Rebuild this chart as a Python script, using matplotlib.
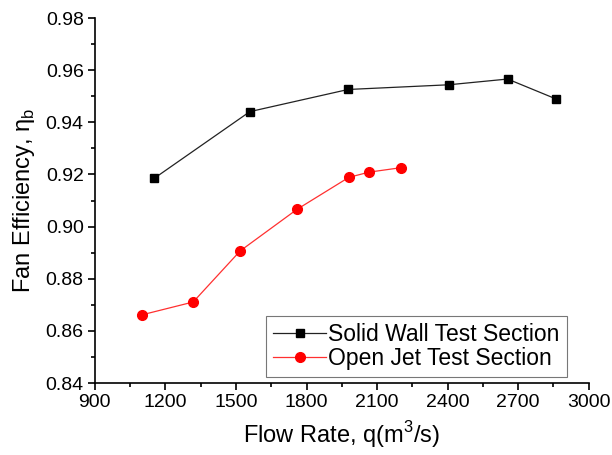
import matplotlib
matplotlib.use("Agg")
import matplotlib.pyplot as plt
from matplotlib.ticker import MultipleLocator

plt.rcParams['font.family'] = ['Liberation Sans', 'DejaVu Sans']

# solid wall test section
solid_q = [1152, 1559, 1977, 2405, 2655, 2860]
solid_eff = [0.9185, 0.9441, 0.9526, 0.9544, 0.9566, 0.9490]

# open jet test section
open_q = [1101, 1318, 1518, 1759, 1980, 2066, 2201]
open_eff = [0.8662, 0.8711, 0.8907, 0.9066, 0.9189, 0.9209, 0.9226]

fig = plt.figure(figsize=(6.12, 4.55), dpi=100)
ax = fig.add_axes([0.155, 0.158, 0.807, 0.8024])

ax.plot(solid_q, solid_eff, color='#222222', lw=0.9, marker='s', ms=6,
        mfc='black', mec='black', label='Solid Wall Test Section')
ax.plot(open_q, open_eff, color='#ff3030', lw=0.9, marker='o', ms=7,
        mfc='red', mec='red', label='Open Jet Test Section')

ax.set_xlim(900, 3000)
ax.set_ylim(0.84, 0.98)
ax.xaxis.set_major_locator(MultipleLocator(300))
ax.xaxis.set_minor_locator(MultipleLocator(150))
ax.yaxis.set_major_locator(MultipleLocator(0.02))
ax.yaxis.set_minor_locator(MultipleLocator(0.01))
ax.yaxis.set_major_formatter(plt.FuncFormatter(lambda v, p: '%.2f' % v))

ax.spines['top'].set_visible(False)
ax.spines['right'].set_visible(False)
ax.spines['left'].set_linewidth(1.2)
ax.spines['bottom'].set_linewidth(1.2)
ax.tick_params(which='major', direction='out', length=5, width=1.2, labelsize=14, pad=3)
ax.tick_params(which='minor', direction='out', length=3, width=1.2)

ax.set_xlabel('Flow Rate, q(m$^\\mathregular{3}$/s)', fontsize=17, labelpad=6)
ax.set_ylabel('Fan Efficiency, η$_\\mathregular{b}$', fontsize=17, labelpad=6)

leg = ax.legend(loc='lower right', bbox_to_anchor=(0.955, 0.016), fontsize=16.5,
                fancybox=False, edgecolor='#555555', borderaxespad=0,
                handlelength=2.3, handletextpad=0.1, borderpad=0.3,
                labelspacing=0.08)
leg.get_frame().set_linewidth(0.8)

fig.savefig('out.png', dpi=100)
